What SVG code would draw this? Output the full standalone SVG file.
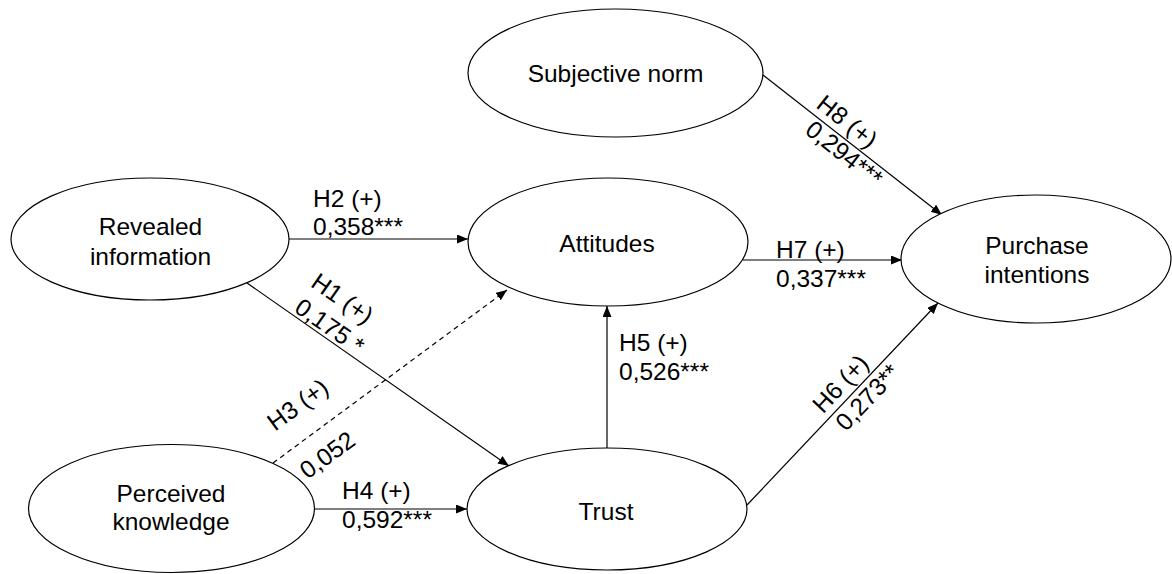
<svg xmlns="http://www.w3.org/2000/svg" width="1172" height="574" viewBox="0 0 1172 574">
<style>
.n{fill:#fff;stroke:#000;stroke-width:1.2}
.t{font-family:"Liberation Sans",Arial,sans-serif;font-size:24.5px;fill:#000}
.c{text-anchor:middle}
.e{fill:none;stroke:#000;stroke-width:1.2}
.d{stroke-dasharray:5 4}
</style>
<defs>
<marker id="a" markerUnits="userSpaceOnUse" markerWidth="12" markerHeight="10" refX="11" refY="4.5" orient="auto">
<path d="M0,0 L11,4.5 L0,9 z" fill="#000"/>
</marker>
</defs>
<rect width="1172" height="574" fill="#fff"/>
<g id="connectors">
<line class="e" x1="289" y1="239" x2="468" y2="239" marker-end="url(#a)"/>
<line class="e" x1="743" y1="260" x2="902" y2="260" marker-end="url(#a)"/>
<line class="e" x1="315" y1="509" x2="467" y2="509" marker-end="url(#a)"/>
<line class="e" x1="607" y1="448" x2="607" y2="306" marker-end="url(#a)"/>
<line class="e" x1="763" y1="75" x2="942" y2="215" marker-end="url(#a)"/>
<line class="e" x1="747" y1="505" x2="938" y2="303" marker-end="url(#a)"/>
<line class="e" x1="247" y1="283" x2="509" y2="466" marker-end="url(#a)"/>
<line class="e d" x1="273" y1="463" x2="507" y2="290" marker-end="url(#a)"/>
<text class="t" x="313" y="207">H2 (+)</text>
<text class="t" x="313" y="235">0,358***</text>
<text class="t" x="776" y="258">H7 (+)</text>
<text class="t" x="776" y="287">0,337***</text>
<text class="t" x="342" y="499">H4 (+)</text>
<text class="t" x="342" y="528">0,592***</text>
<text class="t" x="619" y="351">H5 (+)</text>
<text class="t" x="619" y="380">0,526***</text>
<g transform="translate(765,75) rotate(38.3)">
<text class="t" x="59" y="-6">H8 (+)</text>
<text class="t" x="66" y="21">0,294***</text>
</g>
<g transform="translate(252,286) rotate(34.9)">
<text class="t" x="47" y="-33">H1 (+)</text>
<text class="t" x="48" y="-3">0,175 *</text>
</g>
<g transform="translate(273,463) rotate(-36.2)">
<text class="t" x="20" y="-24">H3 (+)</text>
<text class="t" x="18" y="34">0,052</text>
</g>
<g transform="translate(747,505) rotate(-46.6)">
<text class="t" x="118" y="-7">H6 (+)</text>
<text class="t" x="121" y="22">0,273**</text>
</g>
</g>
<g id="subjective-norm">
<ellipse class="n" cx="615.5" cy="73" rx="147.5" ry="64"/>
<text class="t c" x="615.5" y="82">Subjective norm</text>
</g>
<g id="revealed-information">
<ellipse class="n" cx="150" cy="239" rx="139" ry="61"/>
<text class="t c" x="150.5" y="235">Revealed</text>
<text class="t c" x="150.5" y="265">information</text>
</g>
<g id="attitudes">
<ellipse class="n" cx="608" cy="242" rx="140" ry="64"/>
<text class="t c" x="607" y="252">Attitudes</text>
</g>
<g id="purchase-intentions">
<ellipse class="n" cx="1036" cy="259" rx="135" ry="64"/>
<text class="t c" x="1037" y="254">Purchase</text>
<text class="t c" x="1037" y="283">intentions</text>
</g>
<g id="perceived-knowledge">
<ellipse class="n" cx="171.5" cy="508.5" rx="143" ry="64"/>
<text class="t c" x="171" y="502">Perceived</text>
<text class="t c" x="171" y="530">knowledge</text>
</g>
<g id="trust">
<ellipse class="n" cx="607" cy="509" rx="140" ry="61"/>
<text class="t c" x="606" y="520">Trust</text>
</g>
</svg>
